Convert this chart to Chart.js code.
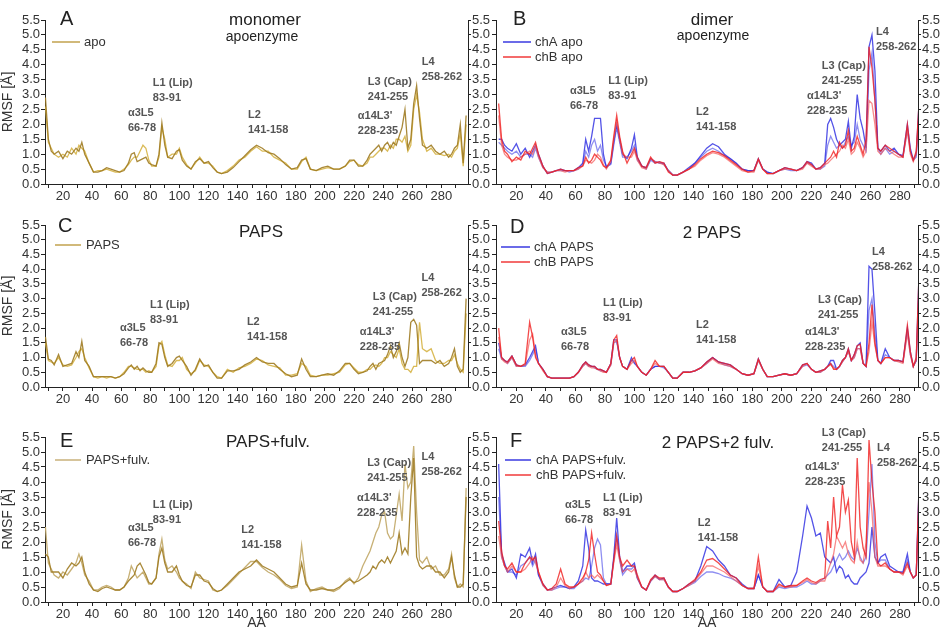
<!DOCTYPE html>
<html>
<head>
<meta charset="utf-8">
<script src="https://cdn.jsdelivr.net/npm/chart.js@4.4.1/dist/chart.umd.min.js"></script>
<style>
  body { margin: 0; background: #fff; width: 942px; height: 633px; overflow: hidden; position: relative; }
  canvas { position: absolute; }
</style>
</head>
<body>
<canvas id="cA" width="500" height="205" style="left:0;top:0"></canvas>
<canvas id="cB" width="472" height="205" style="left:470px;top:0"></canvas>
<canvas id="cC" width="500" height="205" style="left:0;top:205px"></canvas>
<canvas id="cD" width="472" height="205" style="left:470px;top:205px"></canvas>
<canvas id="cE" width="500" height="223" style="left:0;top:410px"></canvas>
<canvas id="cF" width="472" height="223" style="left:470px;top:410px"></canvas>
<script>
// residue numbers (x) shared by every trace
const residues = [
  8, 10, 12, 14, 17, 20, 23, 26, 29, 31, 33, 35,
  38, 41, 44, 47, 50, 53, 56, 59, 62, 65,
  67, 69, 71, 73, 75, 77, 79, 81, 84, 86, 88, 90, 92,
  95, 98, 100, 102, 105, 108, 111, 114, 117, 120, 123, 126, 129,
  133, 137, 141, 145, 149, 153, 157, 161, 165, 169, 173, 177, 181,
  184, 187, 190, 194, 198, 202, 206, 210, 214, 217, 220, 223, 226, 229,
  231, 233, 235, 237, 239, 241, 243, 245, 247, 249, 251, 253, 255, 257, 259, 261, 263, 265, 267,
  270, 273, 276, 279, 282, 285, 287, 289, 291, 293, 295, 297
];
const yTickVals = [0, 0.5, 1, 1.5, 2, 2.5, 3, 3.5, 4, 4.5, 5, 5.5];
const xTickVals = [10, 20, 30, 40, 50, 60, 70, 80, 90, 100, 110, 120, 130, 140, 150, 160, 170, 180, 190, 200, 210, 220, 230, 240, 250, 260, 270, 280, 290];

// A - monomer apo
const apoMono1 = [
  2.9, 1.5, 1.1, 1.0, 1.1, 0.85, 1.1, 1.0, 1.2, 1.1, 1.4, 1.0,
  0.7, 0.4, 0.4, 0.45, 0.55, 0.5, 0.45, 0.4, 0.45, 0.7,
  1.0, 1.05, 0.75, 0.8, 0.85, 0.9, 0.7, 0.65, 0.6, 1.0, 2.05, 1.3, 0.9,
  0.85, 1.1, 1.15, 0.8, 0.6, 0.5, 0.75, 0.85, 0.7, 0.75, 0.55, 0.4, 0.35,
  0.4, 0.55, 0.75, 0.95, 1.15, 1.3, 1.2, 1.05, 1.0, 0.85, 0.65, 0.5, 0.55,
  0.8, 0.85, 0.5, 0.45, 0.55, 0.6, 0.5, 0.5, 0.6, 0.8, 0.8, 0.6, 0.6, 0.8,
  1.0, 1.1, 1.2, 1.3, 1.1, 1.3, 1.4, 1.2, 1.4, 1.3, 1.6, 1.9, 2.5, 1.2, 1.5, 2.7, 3.3, 2.2, 1.3,
  1.2, 1.3, 1.1, 1.0, 1.1, 0.9, 1.0, 1.2, 1.3, 2.0, 0.7, 2.3
];
const apoMono2 = [
  2.6, 1.4, 1.2, 1.0, 0.9, 1.0, 0.9, 1.2, 1.0, 1.3, 1.2, 1.1,
  0.7, 0.4, 0.45, 0.45, 0.5, 0.45, 0.4, 0.4, 0.5, 0.65,
  0.8, 0.9, 0.9, 1.1, 1.3, 1.2, 0.8, 0.6, 0.6, 0.9, 1.9, 1.5, 0.9,
  1.0, 1.0, 1.2, 0.9, 0.65, 0.5, 0.7, 0.9, 0.7, 0.7, 0.6, 0.4, 0.35,
  0.45, 0.6, 0.8, 0.9, 1.1, 1.25, 1.1, 1.1, 0.9, 0.8, 0.7, 0.5, 0.5,
  0.75, 0.9, 0.5, 0.45, 0.5, 0.55, 0.5, 0.5, 0.6, 0.75, 0.8, 0.65, 0.6, 0.7,
  0.9, 0.9, 1.0, 1.1, 1.2, 1.2, 1.1, 1.3, 1.2, 1.5, 1.5, 1.4, 1.6, 1.1, 1.3, 2.5, 3.0, 2.4, 1.5,
  1.1, 1.2, 1.0, 1.0, 0.95, 1.0, 0.9, 1.1, 1.2, 1.7, 0.6, 2.0
];

// B - dimer apo
const apoChA1 = [
  1.5, 1.5, 1.3, 1.2, 1.1, 1.35, 1.0, 1.2, 0.9, 1.1, 1.3, 1.0,
  0.6, 0.35, 0.4, 0.45, 0.5, 0.45, 0.45, 0.45, 0.55, 0.7,
  1.5, 1.1, 1.6, 2.2, 2.2, 2.2, 1.0, 0.55, 0.7, 1.4, 2.0, 1.5, 1.0,
  0.85, 1.2, 1.65, 0.9, 0.6, 0.55, 0.85, 0.75, 0.7, 0.7, 0.45, 0.3, 0.3,
  0.4, 0.55, 0.7, 0.95, 1.2, 1.35, 1.25, 1.0, 0.85, 0.7, 0.5, 0.45, 0.45,
  0.85, 0.5, 0.4, 0.35, 0.45, 0.55, 0.5, 0.45, 0.55, 0.75, 0.7, 0.5, 0.55, 0.7,
  2.0, 2.2, 1.9, 1.5, 1.3, 1.4, 1.5, 2.1, 1.2, 1.6, 3.0, 2.2, 1.8, 1.2, 4.6, 5.0, 3.8, 1.2, 1.1,
  1.3, 1.1, 1.2, 1.0, 0.95, 2.0, 1.2, 0.8, 1.0, 2.8, 2.8, 2.8
];
const apoChA2 = [
  1.4, 1.3, 1.2, 1.1, 1.0, 1.1, 0.9, 1.0, 1.0, 0.9, 1.2, 0.9,
  0.55, 0.4, 0.4, 0.45, 0.45, 0.45, 0.4, 0.45, 0.5, 0.65,
  1.1, 0.9, 1.3, 1.5, 1.1, 1.3, 0.8, 0.6, 0.65, 1.3, 1.9, 1.4, 0.9,
  0.9, 1.1, 1.3, 0.8, 0.6, 0.5, 0.8, 0.7, 0.75, 0.65, 0.45, 0.3, 0.3,
  0.4, 0.5, 0.7, 0.9, 1.1, 1.2, 1.1, 0.95, 0.85, 0.7, 0.5, 0.45, 0.45,
  0.8, 0.5, 0.4, 0.35, 0.45, 0.5, 0.45, 0.45, 0.55, 0.7, 0.65, 0.5, 0.5, 0.6,
  1.3, 1.6, 1.4, 1.2, 1.3, 1.2, 1.4, 1.6, 1.3, 1.4, 2.0, 1.5, 1.3, 1.1, 3.8, 4.4, 2.8, 1.2, 1.0,
  1.2, 1.0, 1.1, 1.0, 0.9, 1.8, 1.1, 0.8, 0.9, 2.5, 2.5, 2.5
];
const apoChB1 = [
  2.7, 1.5, 1.1, 1.0, 0.75, 0.9, 0.8, 1.1, 1.0, 1.2, 1.4, 1.0,
  0.6, 0.35, 0.4, 0.45, 0.5, 0.45, 0.45, 0.45, 0.55, 0.6,
  0.9, 0.7, 0.8, 1.0, 0.9, 0.8, 0.6, 0.55, 0.8, 1.6, 2.3, 1.6, 1.1,
  0.7, 1.0, 1.2, 0.9, 0.6, 0.55, 0.9, 0.7, 0.75, 0.7, 0.4, 0.3, 0.3,
  0.4, 0.5, 0.65, 0.85, 1.0, 1.1, 1.05, 0.95, 0.8, 0.65, 0.5, 0.4, 0.45,
  0.85, 0.5, 0.35, 0.35, 0.45, 0.55, 0.5, 0.45, 0.55, 0.75, 0.65, 0.5, 0.55, 0.7,
  0.8, 0.9, 1.1, 0.9, 1.4, 1.2, 1.3, 1.8, 1.1, 1.2, 1.6, 1.3, 1.0, 1.5, 4.6, 3.9, 2.8, 1.2, 1.1,
  1.3, 1.2, 1.1, 1.0, 0.9, 2.0, 1.1, 0.8, 1.1, 2.8, 2.8, 2.8
];
const apoChB2 = [
  2.3, 1.3, 1.0, 0.9, 0.8, 0.8, 0.9, 1.0, 1.1, 1.0, 1.3, 0.9,
  0.55, 0.4, 0.4, 0.45, 0.45, 0.4, 0.45, 0.45, 0.5, 0.6,
  0.8, 0.75, 0.7, 0.8, 1.0, 0.9, 0.65, 0.5, 0.75, 1.5, 2.1, 1.5, 1.0,
  0.9, 0.9, 1.1, 0.8, 0.55, 0.5, 0.85, 0.75, 0.7, 0.65, 0.45, 0.3, 0.3,
  0.4, 0.5, 0.6, 0.8, 0.95, 1.05, 1.0, 0.9, 0.75, 0.6, 0.45, 0.4, 0.4,
  0.8, 0.5, 0.35, 0.35, 0.45, 0.5, 0.5, 0.45, 0.5, 0.7, 0.6, 0.5, 0.5, 0.65,
  0.7, 0.8, 0.9, 1.0, 1.1, 1.3, 1.2, 1.5, 1.0, 1.1, 1.4, 1.2, 0.9, 1.1, 2.8, 2.7, 2.0, 1.1, 1.0,
  1.2, 1.1, 1.0, 0.9, 0.9, 1.8, 1.0, 0.75, 1.0, 2.5, 2.5, 2.5
];

// C - monomer PAPS
const papsMono1 = [
  1.7, 0.95, 0.9, 0.75, 1.1, 0.7, 0.75, 0.8, 1.2, 1.0, 1.55, 0.9,
  0.7, 0.35, 0.35, 0.35, 0.35, 0.35, 0.3, 0.35, 0.45, 0.65,
  0.75, 0.6, 0.7, 0.55, 0.65, 0.55, 0.5, 0.5, 0.8, 1.5, 1.45, 1.0, 0.7,
  0.8, 1.0, 1.05, 0.9, 0.7, 0.4, 0.6, 0.95, 0.7, 0.75, 0.5, 0.3, 0.3,
  0.55, 0.55, 0.6, 0.75, 0.85, 1.0, 0.85, 0.8, 0.8, 0.6, 0.45, 0.35, 0.4,
  0.95, 0.6, 0.35, 0.35, 0.4, 0.45, 0.4, 0.55, 0.8, 0.8, 0.6, 0.45, 0.5, 0.55,
  0.7, 0.8, 0.6, 0.8, 0.85, 0.9, 1.1, 1.4, 1.0, 1.2, 1.5, 1.0, 0.7, 1.0, 2.2, 2.3, 2.1, 0.8, 0.9,
  0.9, 0.9, 0.8, 0.9, 0.7, 0.8, 1.0, 1.3, 0.7, 0.5, 0.6, 3.0
];
const papsMono2 = [
  1.5, 0.9, 0.85, 0.8, 1.0, 0.75, 0.7, 0.75, 1.0, 1.2, 1.3, 1.0,
  0.65, 0.35, 0.3, 0.35, 0.3, 0.35, 0.3, 0.35, 0.5, 0.7,
  0.7, 0.65, 0.6, 0.6, 0.6, 0.5, 0.55, 0.5, 0.7, 1.4, 1.55, 1.1, 0.75,
  0.7, 0.9, 0.9, 1.0, 0.6, 0.45, 0.55, 0.9, 0.75, 0.7, 0.5, 0.35, 0.3,
  0.6, 0.5, 0.65, 0.7, 0.8, 0.95, 0.9, 0.75, 0.7, 0.65, 0.4, 0.4, 0.45,
  0.8, 0.7, 0.4, 0.35, 0.4, 0.4, 0.45, 0.5, 0.75, 0.8, 0.65, 0.5, 0.5, 0.6,
  0.6, 0.7, 0.75, 0.7, 0.8, 1.0, 1.0, 1.2, 1.1, 1.0, 1.3, 0.8, 0.6, 0.6, 0.5, 0.7, 0.7, 2.2, 1.3,
  1.2, 1.3, 0.9, 0.8, 0.8, 0.9, 0.9, 1.1, 0.8, 0.6, 0.5, 2.5
];

// D - dimer 2 PAPS
const papsChA1 = [
  1.5, 1.0, 0.9, 0.85, 1.05, 0.75, 0.7, 0.75, 1.0, 1.2, 1.4, 0.8,
  0.6, 0.35, 0.3, 0.3, 0.3, 0.3, 0.3, 0.35, 0.5, 0.75,
  0.85, 0.75, 0.7, 0.7, 0.6, 0.6, 0.55, 0.5, 0.8, 1.6, 1.6, 1.0, 0.7,
  0.6, 1.0, 0.8, 0.7, 0.5, 0.4, 0.6, 0.7, 0.7, 0.7, 0.5, 0.3, 0.3,
  0.5, 0.5, 0.55, 0.65, 0.85, 1.0, 0.85, 0.8, 0.75, 0.6, 0.45, 0.4, 0.45,
  0.95, 0.6, 0.35, 0.35, 0.4, 0.45, 0.4, 0.45, 0.75, 0.8, 0.6, 0.5, 0.55, 0.6,
  0.7, 0.9, 0.9, 0.6, 0.7, 0.9, 1.0, 1.3, 0.9, 1.1, 1.4, 1.5, 0.8, 0.7, 4.1, 4.0, 2.5, 0.9, 0.8,
  1.3, 1.0, 0.9, 0.9, 0.85, 2.0, 1.2, 0.7, 0.9, 4.0, 4.0, 4.0
];
const papsChA2 = [
  1.3, 0.95, 0.9, 0.8, 1.0, 0.7, 0.7, 0.7, 0.9, 1.1, 1.3, 0.8,
  0.6, 0.35, 0.3, 0.3, 0.3, 0.3, 0.3, 0.35, 0.5, 0.7,
  0.8, 0.7, 0.7, 0.65, 0.6, 0.55, 0.55, 0.5, 0.75, 1.5, 1.55, 1.0, 0.7,
  0.6, 0.9, 0.85, 0.7, 0.5, 0.4, 0.6, 0.7, 0.7, 0.65, 0.5, 0.3, 0.3,
  0.5, 0.5, 0.55, 0.65, 0.8, 1.0, 0.85, 0.75, 0.7, 0.6, 0.45, 0.4, 0.45,
  0.9, 0.6, 0.35, 0.35, 0.4, 0.45, 0.4, 0.45, 0.7, 0.75, 0.6, 0.5, 0.5, 0.6,
  0.7, 0.8, 0.7, 0.6, 0.7, 0.85, 1.0, 1.2, 0.9, 1.0, 1.3, 1.3, 0.8, 0.7, 2.6, 3.0, 1.8, 0.9, 0.8,
  1.1, 1.0, 0.9, 0.9, 0.85, 1.9, 1.1, 0.7, 0.9, 3.5, 3.5, 3.5
];
const papsChB1 = [
  2.0, 1.0, 0.9, 0.85, 1.05, 0.75, 0.7, 0.8, 2.2, 1.7, 1.0, 0.8,
  0.6, 0.35, 0.3, 0.3, 0.3, 0.3, 0.3, 0.35, 0.5, 0.75,
  0.85, 0.75, 0.7, 0.7, 0.6, 0.6, 0.55, 0.5, 0.8, 1.6, 1.75, 1.0, 0.7,
  0.6, 0.9, 1.0, 0.7, 0.5, 0.4, 0.6, 0.9, 0.7, 0.7, 0.5, 0.3, 0.3,
  0.5, 0.5, 0.55, 0.65, 0.85, 1.0, 0.85, 0.8, 0.75, 0.6, 0.45, 0.4, 0.45,
  0.95, 0.6, 0.35, 0.35, 0.4, 0.45, 0.4, 0.45, 0.75, 0.8, 0.6, 0.5, 0.55, 0.6,
  0.7, 0.8, 0.6, 0.6, 0.7, 0.9, 1.0, 1.3, 0.9, 1.1, 1.4, 1.45, 0.8, 0.7, 1.5, 2.8, 1.5, 0.9, 0.8,
  1.0, 1.0, 0.9, 0.9, 0.85, 2.1, 1.2, 0.7, 1.0, 4.0, 4.0, 4.0
];
const papsChB2 = [
  1.7, 0.95, 0.85, 0.8, 1.0, 0.7, 0.7, 0.75, 1.6, 1.8, 1.1, 0.8,
  0.55, 0.35, 0.3, 0.3, 0.3, 0.3, 0.3, 0.35, 0.5, 0.7,
  0.8, 0.7, 0.65, 0.65, 0.6, 0.55, 0.5, 0.5, 0.75, 1.5, 1.6, 1.0, 0.7,
  0.6, 0.8, 0.9, 0.7, 0.5, 0.4, 0.6, 0.8, 0.7, 0.7, 0.5, 0.3, 0.3,
  0.5, 0.5, 0.55, 0.65, 0.8, 0.95, 0.8, 0.75, 0.7, 0.6, 0.45, 0.4, 0.45,
  0.9, 0.6, 0.35, 0.35, 0.4, 0.45, 0.4, 0.45, 0.7, 0.8, 0.6, 0.5, 0.5, 0.6,
  0.7, 0.75, 0.65, 0.6, 0.7, 0.85, 1.0, 1.2, 0.9, 1.0, 1.3, 1.3, 0.8, 0.7, 1.2, 2.2, 1.4, 0.9, 0.8,
  1.0, 1.0, 0.9, 0.85, 0.8, 1.8, 1.1, 0.7, 0.9, 3.5, 3.5, 3.5
];

// E - monomer PAPS + fulvestrant
const fulvMono1 = [
  2.5, 1.3, 1.1, 0.9, 0.8, 1.0, 0.9, 1.1, 1.3, 1.6, 1.3, 0.9,
  0.7, 0.4, 0.4, 0.5, 0.55, 0.5, 0.4, 0.4, 0.5, 0.8,
  1.2, 1.0, 0.8, 0.9, 1.0, 0.8, 0.6, 0.6, 0.8, 1.6, 2.1, 1.4, 1.1,
  1.2, 1.0, 0.8, 0.7, 0.6, 0.45, 1.0, 0.8, 0.75, 0.7, 0.4, 0.35, 0.4,
  0.55, 0.75, 0.95, 1.15, 1.35, 1.35, 1.15, 1.0, 0.9, 0.75, 0.55, 0.45, 0.5,
  1.9, 0.7, 0.35, 0.45, 0.5, 0.4, 0.35, 0.45, 0.7, 0.8, 0.6, 0.8, 1.2, 1.5,
  1.7, 2.0, 2.3, 2.5, 2.9, 3.0, 2.3, 2.1, 2.2, 2.9, 3.6, 2.7, 4.6, 3.8, 4.0, 5.2, 3.0, 1.4, 1.3,
  1.5, 1.1, 1.2, 0.9, 0.9, 1.1, 1.6, 0.8, 0.5, 0.6, 0.5, 3.8
];
const fulvMono2 = [
  1.6, 1.5, 1.0, 1.0, 1.0, 0.8, 1.1, 1.3, 1.2, 1.3, 1.5, 1.0,
  0.6, 0.4, 0.35, 0.45, 0.5, 0.45, 0.4, 0.4, 0.5, 0.7,
  0.8, 0.9, 1.2, 1.3, 1.1, 0.9, 0.65, 0.6, 0.8, 1.5, 1.8, 1.3, 1.0,
  1.0, 1.2, 0.9, 0.7, 0.55, 0.5, 0.9, 0.9, 0.7, 0.65, 0.45, 0.35, 0.4,
  0.6, 0.8, 1.0, 1.1, 1.2, 1.4, 1.2, 1.1, 1.0, 0.8, 0.6, 0.5, 0.55,
  1.3, 0.6, 0.4, 0.4, 0.45, 0.4, 0.4, 0.5, 0.65, 0.75, 0.65, 0.7, 0.8, 0.9,
  1.0, 1.2, 1.1, 1.3, 1.4, 1.3, 1.5, 1.3, 1.5, 1.7, 2.3, 1.6, 1.8, 1.6, 3.5, 4.8, 1.5, 1.2, 1.1,
  1.2, 1.2, 1.0, 1.0, 0.8, 1.0, 1.5, 0.9, 0.5, 0.5, 0.6, 3.5
];

// F - dimer 2 PAPS + 2 fulvestrant
const fulvChA1 = [
  4.6, 1.6, 1.3, 1.0, 1.1, 0.8, 1.6, 1.5, 1.8, 1.3, 1.6, 0.9,
  0.6, 0.4, 0.45, 0.5, 0.55, 0.5, 0.45, 0.5, 0.7, 1.2,
  2.4, 1.8, 0.8, 0.7, 0.7, 0.65, 0.6, 0.6, 0.6, 1.5, 2.8, 1.5, 1.0,
  1.2, 1.2, 1.3, 0.8, 0.5, 0.4, 0.7, 0.9, 0.75, 0.8, 0.5, 0.35, 0.35,
  0.45, 0.6, 0.7, 1.2, 1.85, 1.7, 1.4, 1.2, 0.9, 0.8, 0.6, 0.45, 0.45,
  0.9, 0.5, 0.35, 0.35, 0.75, 0.5, 0.55, 1.0, 2.2, 3.2, 2.8, 2.2, 2.3, 1.5,
  1.4, 1.3, 1.5, 1.0, 1.2, 1.1, 0.8, 0.9, 0.7, 0.6, 0.6, 0.8, 0.9, 1.0, 1.3, 2.5, 1.5, 1.3, 1.5,
  1.6, 1.2, 1.1, 1.0, 1.0, 1.6, 1.0, 0.8, 0.9, 4.0, 4.0, 4.0
];
const fulvChA2 = [
  3.5, 1.5, 1.2, 1.0, 1.0, 0.9, 1.2, 1.3, 1.5, 1.2, 1.4, 0.9,
  0.55, 0.4, 0.4, 0.45, 0.5, 0.5, 0.45, 0.45, 0.6, 0.7,
  0.8, 0.75, 1.2, 1.8, 2.1, 1.9, 0.8, 0.6, 0.6, 1.4, 2.2, 1.4, 0.9,
  1.1, 1.1, 1.2, 0.8, 0.5, 0.4, 0.7, 0.85, 0.75, 0.75, 0.5, 0.35, 0.35,
  0.45, 0.55, 0.65, 0.85, 1.0, 1.0, 0.95, 0.85, 0.8, 0.7, 0.55, 0.45, 0.45,
  0.9, 0.5, 0.35, 0.35, 0.5, 0.45, 0.5, 0.5, 0.6, 0.7, 0.6, 0.6, 0.7, 0.8,
  0.9, 1.0, 1.2, 1.4, 1.6, 1.4, 1.5, 1.7, 1.5, 1.4, 1.8, 1.5, 1.3, 1.5, 3.0, 4.6, 2.0, 1.3, 1.4,
  1.4, 1.1, 1.0, 1.0, 0.95, 1.4, 1.0, 0.8, 0.9, 3.8, 3.8, 3.8
];
const fulvChB1 = [
  2.7, 1.7, 1.2, 1.1, 1.3, 1.0, 1.0, 1.3, 1.5, 1.4, 1.5, 1.0,
  0.6, 0.4, 0.45, 0.6, 1.1, 0.6, 0.5, 0.5, 0.6, 0.8,
  1.0, 1.4, 2.3, 1.6, 1.0, 0.9, 0.7, 0.55, 0.6, 1.4, 2.2, 1.5, 1.2,
  1.4, 1.2, 1.2, 0.9, 0.5, 0.4, 0.75, 0.9, 0.8, 0.8, 0.5, 0.35, 0.35,
  0.45, 0.6, 0.75, 1.0, 1.4, 1.45, 1.3, 1.1, 0.9, 0.8, 0.55, 0.45, 0.45,
  1.5, 0.5, 0.35, 0.35, 0.6, 0.5, 0.55, 0.55, 0.7, 0.8, 0.7, 0.65, 0.75, 0.8,
  2.7, 1.8, 3.5, 2.2, 2.5, 3.9, 3.0, 3.4, 2.0, 1.5, 4.8, 2.5, 1.8, 1.5, 5.4, 4.0, 3.0, 1.3, 1.2,
  1.3, 1.1, 1.0, 1.0, 0.95, 1.3, 1.0, 0.8, 0.9, 4.0, 4.0, 4.0
];
const fulvChB2 = [
  2.2, 1.5, 1.2, 1.0, 1.2, 1.0, 1.0, 1.1, 1.3, 1.5, 1.3, 1.0,
  0.55, 0.4, 0.4, 0.5, 0.8, 0.55, 0.45, 0.5, 0.6, 0.7,
  1.0, 0.8, 0.9, 0.8, 0.9, 0.8, 0.7, 0.55, 0.6, 1.3, 1.9, 1.4, 1.0,
  1.1, 1.0, 1.1, 0.8, 0.5, 0.4, 0.7, 0.85, 0.75, 0.75, 0.5, 0.35, 0.35,
  0.45, 0.55, 0.7, 0.95, 1.2, 1.2, 1.1, 1.0, 0.85, 0.7, 0.55, 0.45, 0.45,
  1.2, 0.5, 0.35, 0.35, 0.55, 0.5, 0.5, 0.55, 0.65, 0.75, 0.65, 0.6, 0.7, 0.7,
  1.0, 1.3, 1.6, 2.2, 2.0, 1.8, 2.0, 1.6, 1.4, 1.3, 2.0, 1.4, 1.3, 2.0, 4.0, 3.0, 1.5, 1.2, 1.2,
  1.2, 1.1, 1.0, 1.0, 0.9, 1.2, 1.0, 0.8, 0.9, 3.5, 3.5, 3.5
];

const FONT = '"Liberation Sans", Arial, sans-serif';
Chart.defaults.font.family = FONT;
Chart.defaults.animation = false;

const GOLD1 = 'rgba(160,124,36,0.9)';
const GOLD2 = 'rgba(214,180,70,0.9)';
const KHAKI = 'rgba(196,172,110,0.95)';
const BLUE1 = 'rgba(40,40,225,0.8)';
const BLUE2 = 'rgba(95,95,235,0.7)';
const RED1 = 'rgba(240,30,30,0.8)';
const RED2 = 'rgba(245,90,90,0.7)';

const columns = {
  L: { xMin: 7.7, xMax: 298.3, leftW: 45, rightW: 32, leftLabels: true },
  R: { xMin: 6.2, xMax: 292.2, leftW: 26, rightW: 24, leftLabels: false }
};

const panels = [
  { id: 'cA', col: 'L', padTop: 20, xH: 21, aa: false,
    letter: ['A', 60, 19], title: ['monomer', 265, 20], sub: ['apoenzyme', 262, 37],
    legend: { x1: 52, x2: 80, tx: 84, ys: [42], items: [['apo', '#c2a24e']] },
    series: [[apoMono1, GOLD1], [apoMono2, GOLD2]],
    notes: [
      [64.7, 2.38, 'α3L5', '66-78'], [81.8, 3.39, 'L1 (Lip)', '83-91'], [147.1, 2.32, 'L2', '141-158'],
      [222.6, 2.28, 'α14L3\'', '228-235'], [229.5, 3.42, 'L3 (Cap)', '241-255'], [266.5, 4.09, 'L4', '258-262']
    ] },
  { id: 'cB', col: 'R', padTop: 20, xH: 21, aa: false,
    letter: ['B', 43, 19], title: ['dimer', 242, 20], sub: ['apoenzyme', 243, 36],
    legend: { x1: 33, x2: 61, tx: 65, ys: [42, 57], items: [['chA apo', '#3a3ae0'], ['chB apo', '#f03a3a']] },
    series: [[apoChB1, RED1], [apoChB2, RED2], [apoChA1, BLUE1], [apoChA2, BLUE2]],
    notes: [
      [56.3, 3.12, 'α3L5', '66-78'], [82.2, 3.46, 'L1 (Lip)', '83-91'], [141.7, 2.4, 'L2', '141-158'],
      [216.9, 2.95, 'α14L3\'', '228-235'], [227, 3.97, 'L3 (Cap)', '241-255'], [263.7, 5.1, 'L4', '258-262']
    ] },
  { id: 'cC', col: 'L', padTop: 20, xH: 23, aa: false,
    letter: ['C', 58, 21], title: ['PAPS', 261, 27], sub: null,
    legend: { x1: 55, x2: 81, tx: 86, ys: [40], items: [['PAPS', '#c2a24e']] },
    series: [[papsMono1, GOLD1], [papsMono2, GOLD2]],
    notes: [
      [59.2, 2.0, 'α3L5', '66-78'], [79.8, 2.78, 'L1 (Lip)', '83-91'], [146.4, 2.2, 'L2', '141-158'],
      [224, 1.87, 'α14L3\'', '228-235'], [232.9, 3.06, 'L3 (Cap)', '241-255'], [266.3, 3.7, 'L4', '258-262']
    ] },
  { id: 'cD', col: 'R', padTop: 20, xH: 23, aa: false,
    letter: ['D', 40, 22], title: ['2 PAPS', 242, 28], sub: null,
    legend: { x1: 31, x2: 60, tx: 64, ys: [42, 57], items: [['chA PAPS', '#3a3ae0'], ['chB PAPS', '#f03a3a']] },
    series: [[papsChB1, RED1], [papsChB2, RED2], [papsChA1, BLUE1], [papsChA2, BLUE2]],
    notes: [
      [50.2, 1.87, 'α3L5', '66-78'], [78.7, 2.85, 'L1 (Lip)', '83-91'], [141.7, 2.1, 'L2', '141-158'],
      [215.6, 1.87, 'α14L3\'', '228-235'], [224.4, 2.95, 'L3 (Cap)', '241-255'], [261, 4.58, 'L4', '258-262']
    ] },
  { id: 'cE', col: 'L', padTop: 27, xH: 31, aa: true,
    letter: ['E', 60, 31], title: ['PAPS+fulv.', 268, 32], sub: null,
    legend: { x1: 55, x2: 81, tx: 86, ys: [50], items: [['PAPS+fulv.', '#c8b07a']] },
    series: [[fulvMono2, GOLD1], [fulvMono1, KHAKI]],
    notes: [
      [64.7, 2.47, 'α3L5', '66-78'], [81.8, 3.23, 'L1 (Lip)', '83-91'], [142.5, 2.4, 'L2', '141-158'],
      [222.1, 3.47, 'α14L3\'', '228-235'], [229, 4.63, 'L3 (Cap)', '241-255'], [266.3, 4.83, 'L4', '258-262']
    ] },
  { id: 'cF', col: 'R', padTop: 27, xH: 31, aa: true,
    letter: ['F', 40, 31], title: ['2 PAPS+2 fulv.', 248, 33], sub: null,
    legend: { x1: 35, x2: 61, tx: 66, ys: [50, 65], items: [['chA PAPS+fulv.', '#3a3ae0'], ['chB PAPS+fulv.', '#f03a3a']] },
    series: [[fulvChB1, RED1], [fulvChB2, RED2], [fulvChA1, BLUE1], [fulvChA2, BLUE2]],
    notes: [
      [52.9, 3.23, 'α3L5', '66-78'], [78.7, 3.47, 'L1 (Lip)', '83-91'], [143, 2.63, 'L2', '141-158'],
      [215.6, 4.5, 'α14L3\'', '228-235'], [227, 5.63, 'L3 (Cap)', '241-255'], [264.4, 5.13, 'L4', '258-262']
    ] }
];

const decoById = {};

// draws panel letter, titles, legend and loop labels
const panelDeco = {
  id: 'panelDeco',
  afterDraw(chart) {
    const p = decoById[chart.canvas.id];
    const ctx = chart.ctx;
    const xs = chart.scales.x, ys = chart.scales.y;
    ctx.save();
    ctx.textBaseline = 'middle';
    ctx.fillStyle = '#222';
    ctx.textAlign = 'left';
    ctx.font = '20px ' + FONT;
    ctx.fillText(p.letter[0], p.letter[1], p.letter[2]);
    ctx.textAlign = 'center';
    ctx.font = '17px ' + FONT;
    ctx.fillText(p.title[0], p.title[1], p.title[2]);
    if (p.sub) {
      ctx.font = '14px ' + FONT;
      ctx.fillText(p.sub[0], p.sub[1], p.sub[2]);
    }
    // legend
    ctx.textAlign = 'left';
    ctx.font = '13px ' + FONT;
    p.legend.items.forEach((it, i) => {
      const y = p.legend.ys[i];
      ctx.strokeStyle = it[1];
      ctx.lineWidth = 1.5;
      ctx.beginPath();
      ctx.moveTo(p.legend.x1, y);
      ctx.lineTo(p.legend.x2, y);
      ctx.stroke();
      ctx.fillStyle = '#333';
      ctx.fillText(it[0], p.legend.tx, y);
    });
    // region labels
    ctx.font = 'bold 11px ' + FONT;
    ctx.fillStyle = '#555';
    p.notes.forEach(n => {
      const px = xs.getPixelForValue(n[0]);
      const py = ys.getPixelForValue(n[1]);
      ctx.fillText(n[2], px, py);
      ctx.fillText(n[3], px, py + 15);
    });
    ctx.restore();
  }
};

function yScale(pos, width, showLabels, title) {
  return {
    type: 'linear', position: pos, min: 0, max: 5.5,
    afterBuildTicks: s => { s.ticks = yTickVals.map(v => ({ value: v })); },
    afterFit: s => { s.width = width; },
    ticks: { display: showLabels, autoSkip: false, callback: v => v.toFixed(1), font: { size: 13 }, color: '#333', padding: 1 },
    grid: { drawOnChartArea: false, drawTicks: true, tickLength: pos === 'left' ? 4 : 3, color: '#222' },
    border: { display: true, color: '#222', width: 1 },
    title: { display: !!title, text: title, font: { size: 14 }, color: '#333', padding: { top: 0, bottom: 0 } }
  };
}

panels.forEach(p => {
  const c = columns[p.col];
  decoById[p.id] = p;
  const datasets = p.series.map(s => ({
    data: residues.map((r, i) => ({ x: r, y: s[0][i] })),
    borderColor: s[1],
    borderWidth: 1.3,
    pointRadius: 0,
    tension: 0,
    fill: false
  }));
  new Chart(document.getElementById(p.id), {
    type: 'line',
    data: { datasets },
    plugins: [panelDeco],
    options: {
      responsive: false,
      animation: false,
      layout: { padding: { top: p.padTop, left: 0, right: 0, bottom: 0 } },
      plugins: { legend: { display: false }, tooltip: { enabled: false } },
      scales: {
        x: {
          type: 'linear', min: c.xMin, max: c.xMax,
          afterBuildTicks: s => { s.ticks = xTickVals.map(v => ({ value: v })); },
          afterFit: s => { s.height = p.xH; },
          ticks: { autoSkip: false, maxRotation: 0, callback: v => (v % 20 === 0 ? String(v) : ''), font: { size: 13 }, color: '#333', padding: 1 },
          grid: { drawOnChartArea: false, drawTicks: true, tickLength: 4, color: '#222' },
          border: { display: true, color: '#222', width: 1 },
          title: { display: p.aa, text: 'AA', font: { size: 14 }, color: '#333', padding: { top: 0, bottom: 1 } }
        },
        y: yScale('left', c.leftW, c.leftLabels, p.col === 'L' ? 'RMSF [Å]' : ''),
        y2: yScale('right', c.rightW, true, '')
      }
    }
  });
});
</script>
</body>
</html>
